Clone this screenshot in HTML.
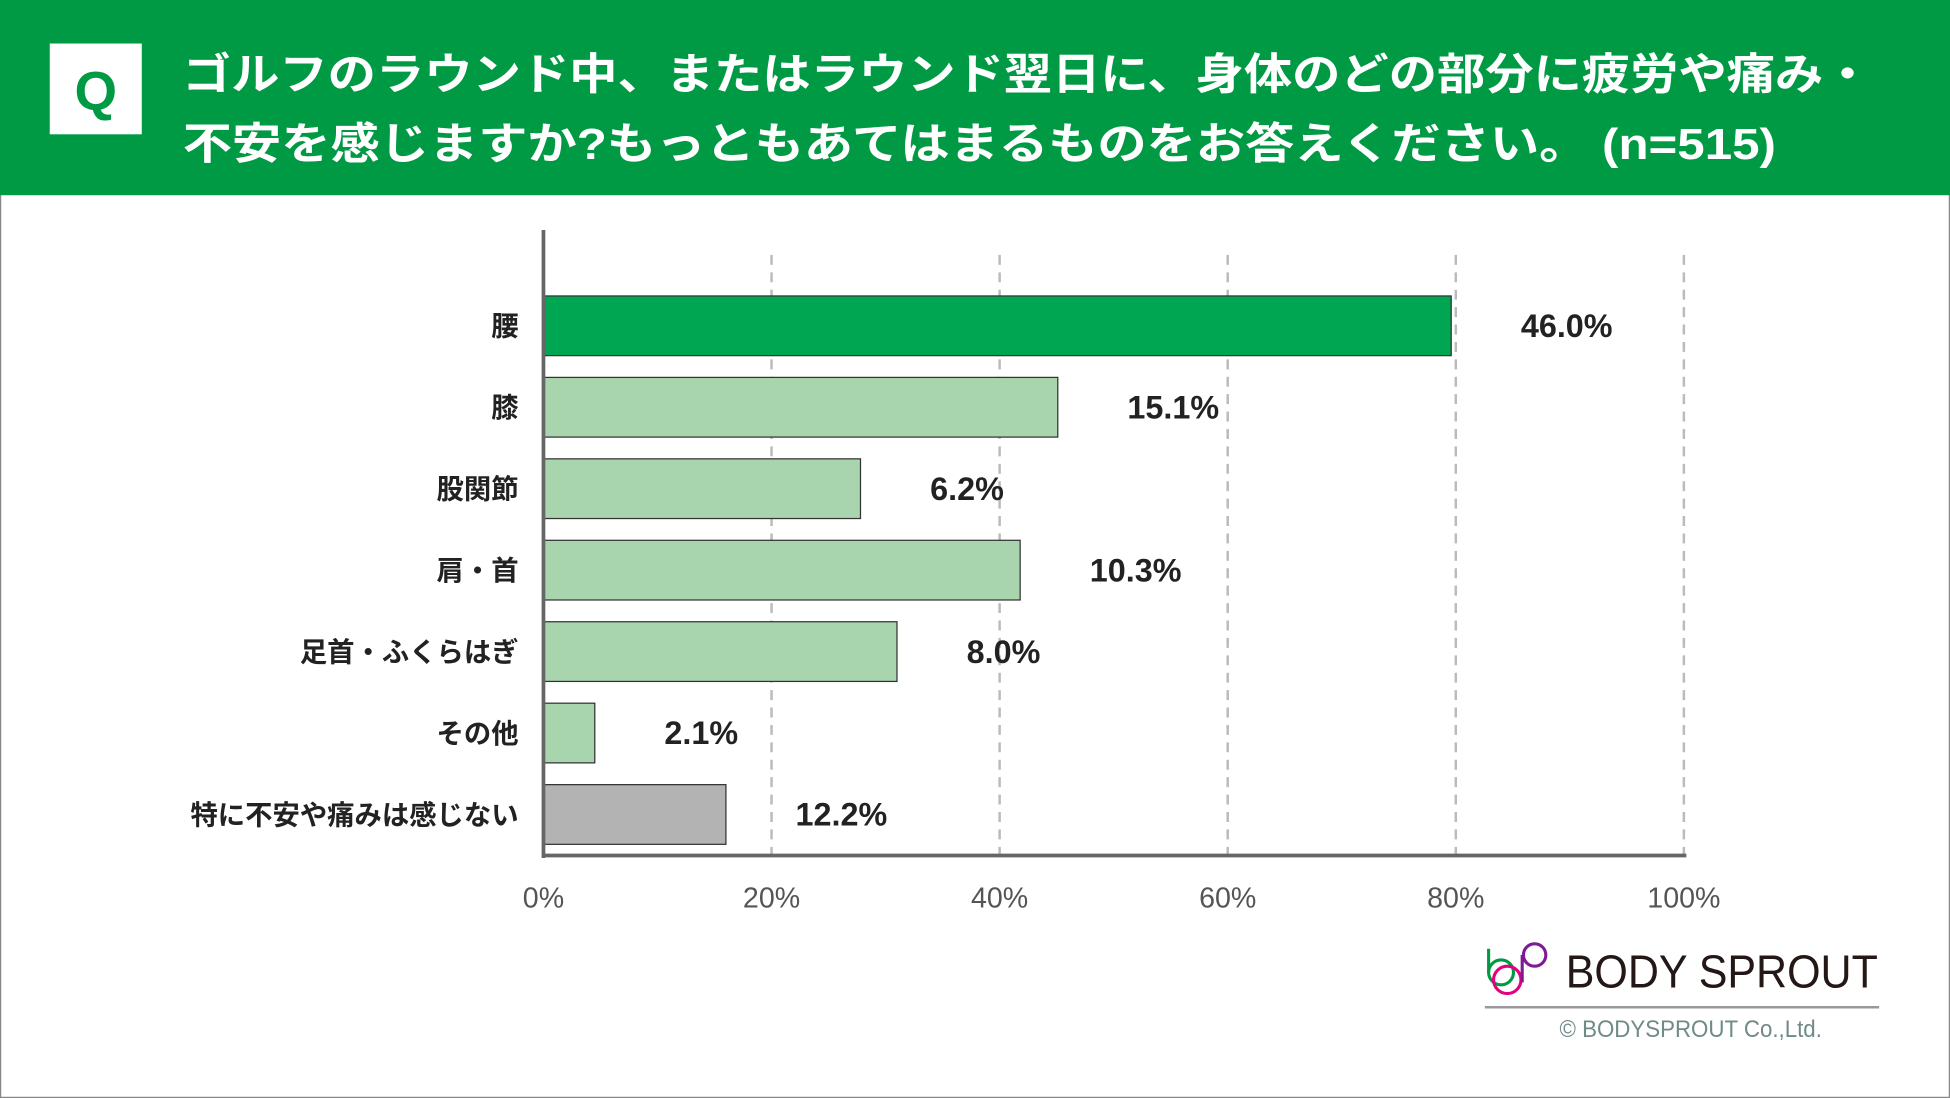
<!DOCTYPE html>
<html><head><meta charset="utf-8"><style>
html,body{margin:0;padding:0;background:#fff}
svg{display:block}
text{font-family:"Liberation Sans","Noto Sans CJK JP",sans-serif}
</style></head><body>
<svg id="chart" width="1950" height="1098" viewBox="0 0 1568 883" preserveAspectRatio="none" xmlns="http://www.w3.org/2000/svg">
<rect x="0.5" y="0.5" width="1567" height="882" fill="#fff" stroke="#888" stroke-width="1"/>
<rect x="0" y="0" width="1568" height="157" fill="#009944"/>
<rect x="40" y="35" width="74" height="73" fill="#fff"/>
<text x="77" y="88" font-size="44" font-weight="bold" fill="#009944" text-anchor="middle">Q</text>
<text x="147" y="72" font-size="35" font-weight="bold" fill="#fff" textLength="1358" lengthAdjust="spacingAndGlyphs">ゴルフのラウンド中、またはラウンド翌日に、身体のどの部分に疲労や痛み・</text>
<text x="147" y="128" font-size="35" font-weight="bold" fill="#fff" textLength="1281" lengthAdjust="spacingAndGlyphs">不安を感じますか?もっともあてはまるものをお答えください。 (n=515)</text>
<g id="grid"></g>
<g id="bars"></g>
<line x1="437" y1="185" x2="437" y2="690" stroke="#666" stroke-width="3"/>
<line x1="436" y1="688" x2="1356" y2="688" stroke="#666" stroke-width="3"/>
<g id="logo">
<circle cx="1207" cy="782" r="10" fill="none" stroke="#009944" stroke-width="2.5"/>
<line x1="1197" y1="763" x2="1197" y2="782" stroke="#009944" stroke-width="2.5"/>
<circle cx="1212" cy="788" r="11" fill="none" stroke="#e4007f" stroke-width="2.5"/>
<circle cx="1234" cy="768" r="9" fill="none" stroke="#7d1b94" stroke-width="2.5"/>
<line x1="1224" y1="768" x2="1224" y2="790" stroke="#7d1b94" stroke-width="2.5"/>
<text x="1259" y="794" font-size="37" fill="#231815" textLength="251" lengthAdjust="spacingAndGlyphs">BODY SPROUT</text>
<line x1="1194" y1="810" x2="1511" y2="810" stroke="#999" stroke-width="2"/>
<text x="1254" y="834" font-size="19" fill="#6f8a88" textLength="211" lengthAdjust="spacingAndGlyphs">© BODYSPROUT Co.,Ltd.</text>
</g>
</svg>
<script>
const categories = ["腰","膝","股関節","肩・首","足首・ふくらはぎ","その他","特に不安や痛みは感じない"];
const barValues = [79.6, 45.1, 27.8, 41.8, 31.0, 4.5, 16.0];
const valueLabels = ["46.0%","15.1%","6.2%","10.3%","8.0%","2.1%","12.2%"];
const ticks = [0,20,40,60,80,100];
const tickLabels = ["0%","20%","40%","60%","80%","100%"];
const NS="http://www.w3.org/2000/svg";
const x0=437, x1=1354, yTop=238, band=65.5, barH=48;
function xs(v){return x0+(x1-x0)*v/100;}
function ys(i){return yTop+i*band;}
function mk(tag,attrs,parent){const e=document.createElementNS(NS,tag);for(const k in attrs)e.setAttribute(k,attrs[k]);parent.appendChild(e);return e;}
const grid=document.getElementById('grid'), bars=document.getElementById('bars');
ticks.forEach((t,i)=>{
  if(t>0){
    const g=mk('line',{x1:xs(t),x2:xs(t),y1:205,y2:688,stroke:'#bbb','stroke-width':2,'stroke-dasharray':'8,6'},grid);
    
    
  }
  const tl=mk('text',{x:xs(t),y:730,'font-size':23,fill:'#555','text-anchor':'middle'},grid);
  tl.textContent=tickLabels[i];
  
  
});
categories.forEach((c,i)=>{
  const y=ys(i);
  const fill=i===0?'#00a651':(i===categories.length-1?'#b3b3b3':'#a8d5ad');
  const r=mk('rect',{x:x0,y:y,width:xs(barValues[i])-x0,height:barH,fill:fill,stroke:'#333','stroke-width':1},bars);
  
  
  const cl=mk('text',{x:417,y:y+barH/2+8,'font-size':22,'font-weight':'bold',fill:'#222','text-anchor':'end'},bars);
  cl.textContent=c;
  
  
  const vl=mk('text',{x:xs(barValues[i])+56,y:y+barH/2+9,'font-size':26,'font-weight':'bold',fill:'#222'},bars);
  vl.textContent=valueLabels[i];
  
  
});
</script>
</body></html>
